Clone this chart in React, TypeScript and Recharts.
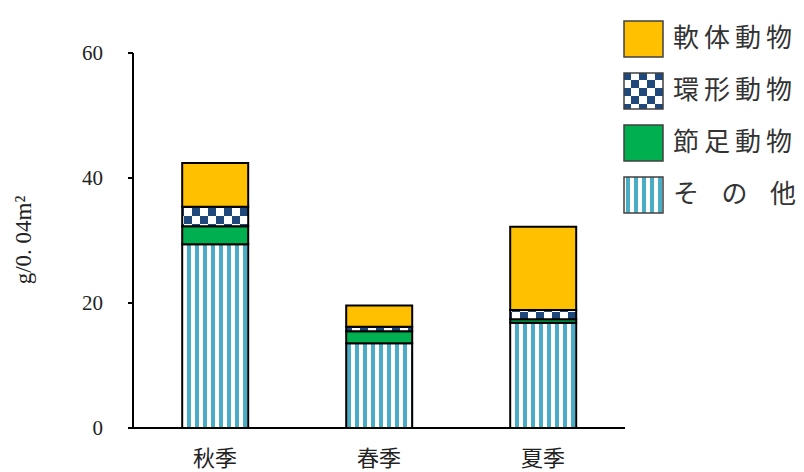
import { BarChart, Bar, XAxis, YAxis } from "recharts";

// seasons and biomass (g/0.04m²) per taxon group
const seasons = ["秋季", "春季", "夏季"];
const sonota = [29.4, 13.55, 16.85];
const setsusoku = [2.9, 1.95, 0.55];
const kankei = [3.1, 0.7, 1.5];
const nantai = [7.0, 3.4, 13.3];
const yTicks = [0, 20, 40, 60];

const data = seasons.map((s, i) => ({
  season: s,
  sonota: sonota[i],
  setsusoku: setsusoku[i],
  kankei: kankei[i],
  nantai: nantai[i],
}));

const FONT = "'Liberation Serif', 'Noto Sans CJK JP', serif";
const ORANGE = "#FFC000";
const GREEN = "#00B050";
const NAVY = "#1F497D";
const STRIPE = "#4BACC6";

const legendItems = [
  { key: "nantai", label: "軟体動物", fill: ORANGE },
  { key: "kankei", label: "環形動物", fill: "checker" },
  { key: "setsusoku", label: "節足動物", fill: GREEN },
  { key: "sonota", label: "そ の 他", fill: "stripe" },
];

const Patterns = ({ prefix }: { prefix: string }) => (
  <defs>
    <pattern id={`${prefix}-stripe`} width={8} height={8} patternUnits="userSpaceOnUse">
      <rect x={0} y={0} width={8} height={8} fill="#fff" />
      <rect x={3} y={0} width={4} height={8} fill={STRIPE} />
    </pattern>
    <pattern id={`${prefix}-checker`} width={16} height={16} patternUnits="userSpaceOnUse">
      <rect x={0} y={0} width={16} height={16} fill="#fff" />
      <rect x={0} y={0} width={8} height={8} fill={NAVY} />
      <rect x={8} y={8} width={8} height={8} fill={NAVY} />
    </pattern>
  </defs>
);

const fillFor = (f: string, prefix: string) =>
  f === "stripe" || f === "checker" ? `url(#${prefix}-${f})` : f;

const Legend = () => (
  <div style={{ position: "absolute", left: 623, top: 13 }}>
    {legendItems.map((it) => (
      <div key={it.key} style={{ display: "flex", alignItems: "center", height: 52 }}>
        <svg width={41} height={38} style={{ display: "block" }}>
          <Patterns prefix={`lg-${it.key}`} />
          <rect
            x={1}
            y={1}
            width={39}
            height={36}
            fill={fillFor(it.fill, `lg-${it.key}`)}
            stroke="#404040"
            strokeWidth={1.5}
          />
        </svg>
        <span
          style={{
            marginLeft: 9,
            fontSize: 26,
            fontFamily: FONT,
            color: "#333",
            whiteSpace: "pre",
            lineHeight: "38px",
            letterSpacing: 5,
            wordSpacing: 6,
          }}
        >
          {it.label}
        </span>
      </div>
    ))}
  </div>
);

const YLabel = () => (
  <text
    x={23}
    y={240}
    transform="rotate(-90 23 240)"
    textAnchor="middle"
    dominantBaseline="central"
    fill="#222"
    fontSize={23}
    fontFamily={FONT}
  >
    g/0. 04m²
  </text>
);

export default function App() {
  return (
    <div style={{ position: "absolute", left: 0, top: 0, width: 804, height: 472, background: "#fff" }}>
      <BarChart
        width={804}
        height={472}
        data={data}
        margin={{ top: 53, right: 179, bottom: 0, left: 0 }}
        barCategoryGap="30%"
      >
        <Patterns prefix="bar" />
        <XAxis
          dataKey="season"
          tickLine={false}
          axisLine={{ stroke: "#000", strokeWidth: 2 }}
          tickSize={0}
          tickMargin={22}
          tick={{ fill: "#222", fontSize: 22, fontFamily: FONT }}
          height={44}
        />
        <YAxis
          width={133}
          domain={[0, 60]}
          ticks={yTicks}
          interval={0}
          tickSize={5}
          tickMargin={25}
          axisLine={{ stroke: "#000", strokeWidth: 2 }}
          tickLine={{ stroke: "#000", strokeWidth: 2 }}
          tick={{ fill: "#222", fontSize: 21, fontFamily: FONT }}
          label={<YLabel />}
        />
        <Bar dataKey="sonota" stackId="a" fill="url(#bar-stripe)" stroke="#000" strokeWidth={2} isAnimationActive={false} />
        <Bar dataKey="setsusoku" stackId="a" fill={GREEN} stroke="#000" strokeWidth={2} isAnimationActive={false} />
        <Bar dataKey="kankei" stackId="a" fill="url(#bar-checker)" stroke="#000" strokeWidth={2} isAnimationActive={false} />
        <Bar dataKey="nantai" stackId="a" fill={ORANGE} stroke="#000" strokeWidth={2} isAnimationActive={false} />
      </BarChart>
      <Legend />
    </div>
  );
}
